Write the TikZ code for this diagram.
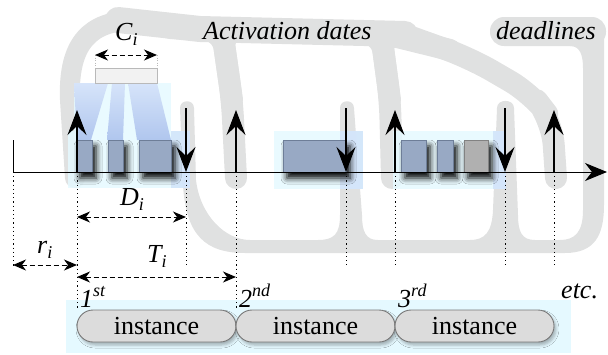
\documentclass[tikz,border=0pt]{standalone}
\usepackage{fontspec}
\setmainfont{Liberation Serif}
\newfontfamily\lserif{Liberation Serif}
\usetikzlibrary{arrows.meta,shadows.blur}
\definecolor{bandgray}{RGB}{224,225,225}
\definecolor{cyanbg}{RGB}{229,249,255}
\definecolor{bluestrip}{RGB}{208,226,250}
\definecolor{beamtop}{RGB}{214,228,250}
\definecolor{beambot}{RGB}{176,198,238}
\definecolor{taskfill}{RGB}{152,169,196}
\definecolor{taskdraw}{RGB}{110,126,152}
\definecolor{greytask}{RGB}{176,176,176}
\definecolor{greytaskdraw}{RGB}{130,130,130}
\definecolor{instfill}{RGB}{220,220,220}
\definecolor{instdraw}{RGB}{120,120,120}
\definecolor{cboxfill}{RGB}{242,242,242}
\definecolor{cboxdraw}{RGB}{185,185,185}
\newcommand\mysub[1]{\raisebox{-5pt}{\fontsize{18}{20}\selectfont #1}}
\newcommand\mysup[1]{\raisebox{11pt}{\fontsize{18}{20}\selectfont #1}}
\begin{document}
\begin{tikzpicture}[x=1pt,y=-1pt,
  every node/.style={inner sep=0pt, font=\lserif\fontsize{26}{30}\selectfont},
  lbl/.style={anchor=base west, font=\lserif\fontsize{26}{30}\selectfont\itshape},
  gband/.style={draw=bandgray, line width=#1, line cap=round, line join=round},
  evarrow/.style={line width=1.1pt, draw=black,
    -{Stealth[length=25pt,width=19pt,inset=9pt,fill=black]}},
  axisarrow/.style={line width=1pt, -{Stealth[length=22pt,width=18pt,inset=7pt,fill=black]}},
  dimarrow/.style={line width=1pt, dash pattern=on 5pt off 3pt,
    {Stealth[length=13pt,width=11pt,inset=4pt,fill=black]}-{Stealth[length=13pt,width=11pt,inset=4pt,fill=black]}},
  guide/.style={line width=1pt, dash pattern=on 1.2pt off 3pt},
  task/.style={fill=taskfill, draw=taskdraw, line width=0.8pt,
    blur shadow={shadow xshift=4pt, shadow yshift=-6pt, shadow blur radius=6pt, shadow opacity=100}},
  greybox/.style={task, fill=greytask, draw=greytaskdraw},
  instbox/.style={draw=instdraw, fill=instfill, line width=0.9pt, rounded corners=16pt,
    minimum width=159pt, minimum height=32pt,
    blur shadow={shadow xshift=2pt, shadow yshift=-3pt, shadow blur radius=3pt, shadow opacity=30}}
]
\useasboundingbox (0,0) rectangle (608,354);

% ---------- grey guide bands ----------
% activation side
\draw[gband=20] (75,178) -- (70,100) .. controls (68,50) and (85,24) .. (125,21);
\draw[gband=26] (118,20) -- (200,29) -- (405,34);
\draw[gband=22, rounded corners=18] (170,28) -- (222,30) -- (232,100) -- (236,178);
\draw[gband=22, rounded corners=18] (290,31) -- (222,30) -- (232,100);
\draw[gband=22, rounded corners=18] (330,32) -- (381,33) -- (390,100) -- (392,178);
\draw[gband=22, rounded corners=18] (450,50) -- (381,33) -- (390,100);
\draw[gband=22, rounded corners=25] (400,33) -- (470,58) -- (532,94) -- (552,120) -- (556,178);
% deadline side
\fill[bandgray, rounded corners=14] (490,17) rectangle (606,46);
\fill[bandgray]
  (180,108) -- (183,185)
  .. controls (186,235) and (205,253) .. (245,253)
  -- (565,253)
  .. controls (595,253) and (604,235) .. (604,205)
  -- (604,35) -- (570,35) -- (570,46)
  .. controls (580,46) and (583,55) .. (583,68)
  -- (583,210)
  .. controls (583,232) and (575,240) .. (560,240)
  -- (535,240)
  .. controls (522,240) and (518,232) .. (518,215)
  -- (514,108) .. controls (514,98.5) and (497,98.5) .. (497,108)
  -- (493,210)
  .. controls (492,232) and (485,240) .. (470,240)
  -- (378,240)
  .. controls (366,240) and (362,232) .. (362,215)
  -- (354,108) .. controls (354,99) and (340,99) .. (340,108)
  -- (340,215)
  .. controls (340,234) and (334,240) .. (318,240)
  -- (250,240)
  .. controls (225,240) and (200,215) .. (196,180)
  -- (194,108) .. controls (194,99) and (180,99) .. (180,108) -- cycle;

% ---------- cyan backgrounds ----------
\fill[cyanbg, opacity=.85] (74,83) rectangle (171,131);
\fill[cyanbg, opacity=.85] (68,131) rectangle (190,188);
\fill[bluestrip, opacity=.8] (171,131) rectangle (190,188);
\fill[cyanbg, opacity=.85] (274,131) rectangle (363,189);
\fill[bluestrip, opacity=.8] (340,131) rectangle (363,189);
\fill[cyanbg, opacity=.85] (393,131) rectangle (506,189);
\fill[bluestrip, opacity=.8] (493,131) rectangle (506,189);
\fill[cyanbg] (66,300) rectangle (571,353);

% ---------- beams from the C box ----------
\shade[top color=beamtop, bottom color=beambot] (74,83) -- (108,83) -- (91,140) -- (77,140) -- cycle;
\shade[top color=beamtop, bottom color=beambot] (112,83) -- (125,83) -- (123,140) -- (107,140) -- cycle;
\shade[top color=beamtop, bottom color=beambot] (128,83) -- (157,83) -- (171,140) -- (137,140) -- cycle;

% ---------- time points ----------
\coordinate (o)  at (13,172);
\coordinate (a1) at (77,172);
\coordinate (d1) at (186,172);
\coordinate (a2) at (236,172);
\coordinate (d2) at (346,172);
\coordinate (a3) at (395,172);
\coordinate (d3) at (505,172);
\coordinate (a4) at (554,172);
\coordinate (tend) at (607,172);
\coordinate (otop) at (13,140);
\coordinate (a1t) at (77,110);
\coordinate (a2t) at (236,110);
\coordinate (a3t) at (395,110);
\coordinate (a4t) at (554,110);
\coordinate (d1t) at (186,108);
\coordinate (d2t) at (346,108);
\coordinate (d3t) at (505,108);

% ---------- dotted guides ----------
\draw[guide] (o) -- (13,267);
\draw[guide] (a1) -- (77,310);
\draw[guide] (d1) -- (186,265);
\draw[guide] (a2) -- (236,310);
\draw[guide] (d2) -- (346,265);
\draw[guide] (a3) -- (395,265);
\draw[guide] (d3) -- (505,265);
\draw[guide] (a4) -- (554,265);

% ---------- task boxes ----------
\draw[task] (76,140) rectangle (92,172);
\draw[task] (108,140) rectangle (123,172);
\draw[task] (139,140) rectangle (171,172);
\draw[task] (283,140) rectangle (346,172);
\draw[task] (401,140) rectangle (426,172);
\draw[task] (437,140) rectangle (453,172);
\draw[greybox] (464,140) rectangle (488,172);

% ---------- C box ----------
\draw[fill=cboxfill, draw=cboxdraw, line width=0.8pt] (95,68) rectangle (157,83);
\coordinate (cl) at (95,55);
\coordinate (cr) at (157,55);
\draw[cboxdraw, line width=0.6pt, dash pattern=on 1pt off 1.5pt] (cl) -- (95,68);
\draw[cboxdraw, line width=0.6pt, dash pattern=on 1pt off 1.5pt] (cr) -- (157,68);
\draw[dimarrow] (cl) -- (cr);

% ---------- axis and event arrows ----------
\draw[axisarrow] (o) -- (tend);
\draw[line width=1pt] (o) -- (otop);
\draw[evarrow] (a1) -- (a1t);
\draw[evarrow] (a2) -- (a2t);
\draw[evarrow] (a3) -- (a3t);
\draw[evarrow] (a4) -- (a4t);
\draw[evarrow] (d1t) -- (d1);
\draw[evarrow] (d2t) -- (d2);
\draw[evarrow] (d3t) -- (d3);

% ---------- dimensions ----------
\coordinate (Dl) at (77,217);  \coordinate (Dr) at (186,217);
\coordinate (rl) at (13,265);  \coordinate (rr) at (77,265);
\coordinate (Tl) at (77,277);  \coordinate (Tr) at (236,277);
\draw[dimarrow] (Dl) -- (Dr);
\draw[dimarrow] (rl) -- (rr);
\draw[dimarrow] (Tl) -- (Tr);

% ---------- labels ----------
\node[lbl] (Ci) at (115,40) {C\mysub{i}};
\node[lbl] (act) at (203,39) {Activation dates};
\node[lbl] (dl) at (496,39) {deadlines};
\node[lbl] (Di) at (120,205) {D\mysub{i}};
\node[lbl] (ri) at (37,253) {r\mysub{i}};
\node[lbl] (Ti) at (147,262) {T\mysub{i}};
\node[lbl] (n1) at (80,307) {1\mysup{st}};
\node[lbl] (n2) at (239,307) {2\mysup{nd}};
\node[lbl] (n3) at (398,307) {3\mysup{rd}};
\node[lbl] (etc) at (561,298) {etc.};

% ---------- instances ----------
\node[instbox] (i1) at (156.5,326) {instance};
\node[instbox] (i2) at (315.5,326) {instance};
\node[instbox] (i3) at (474.5,326) {instance};
\end{tikzpicture}
\end{document}
